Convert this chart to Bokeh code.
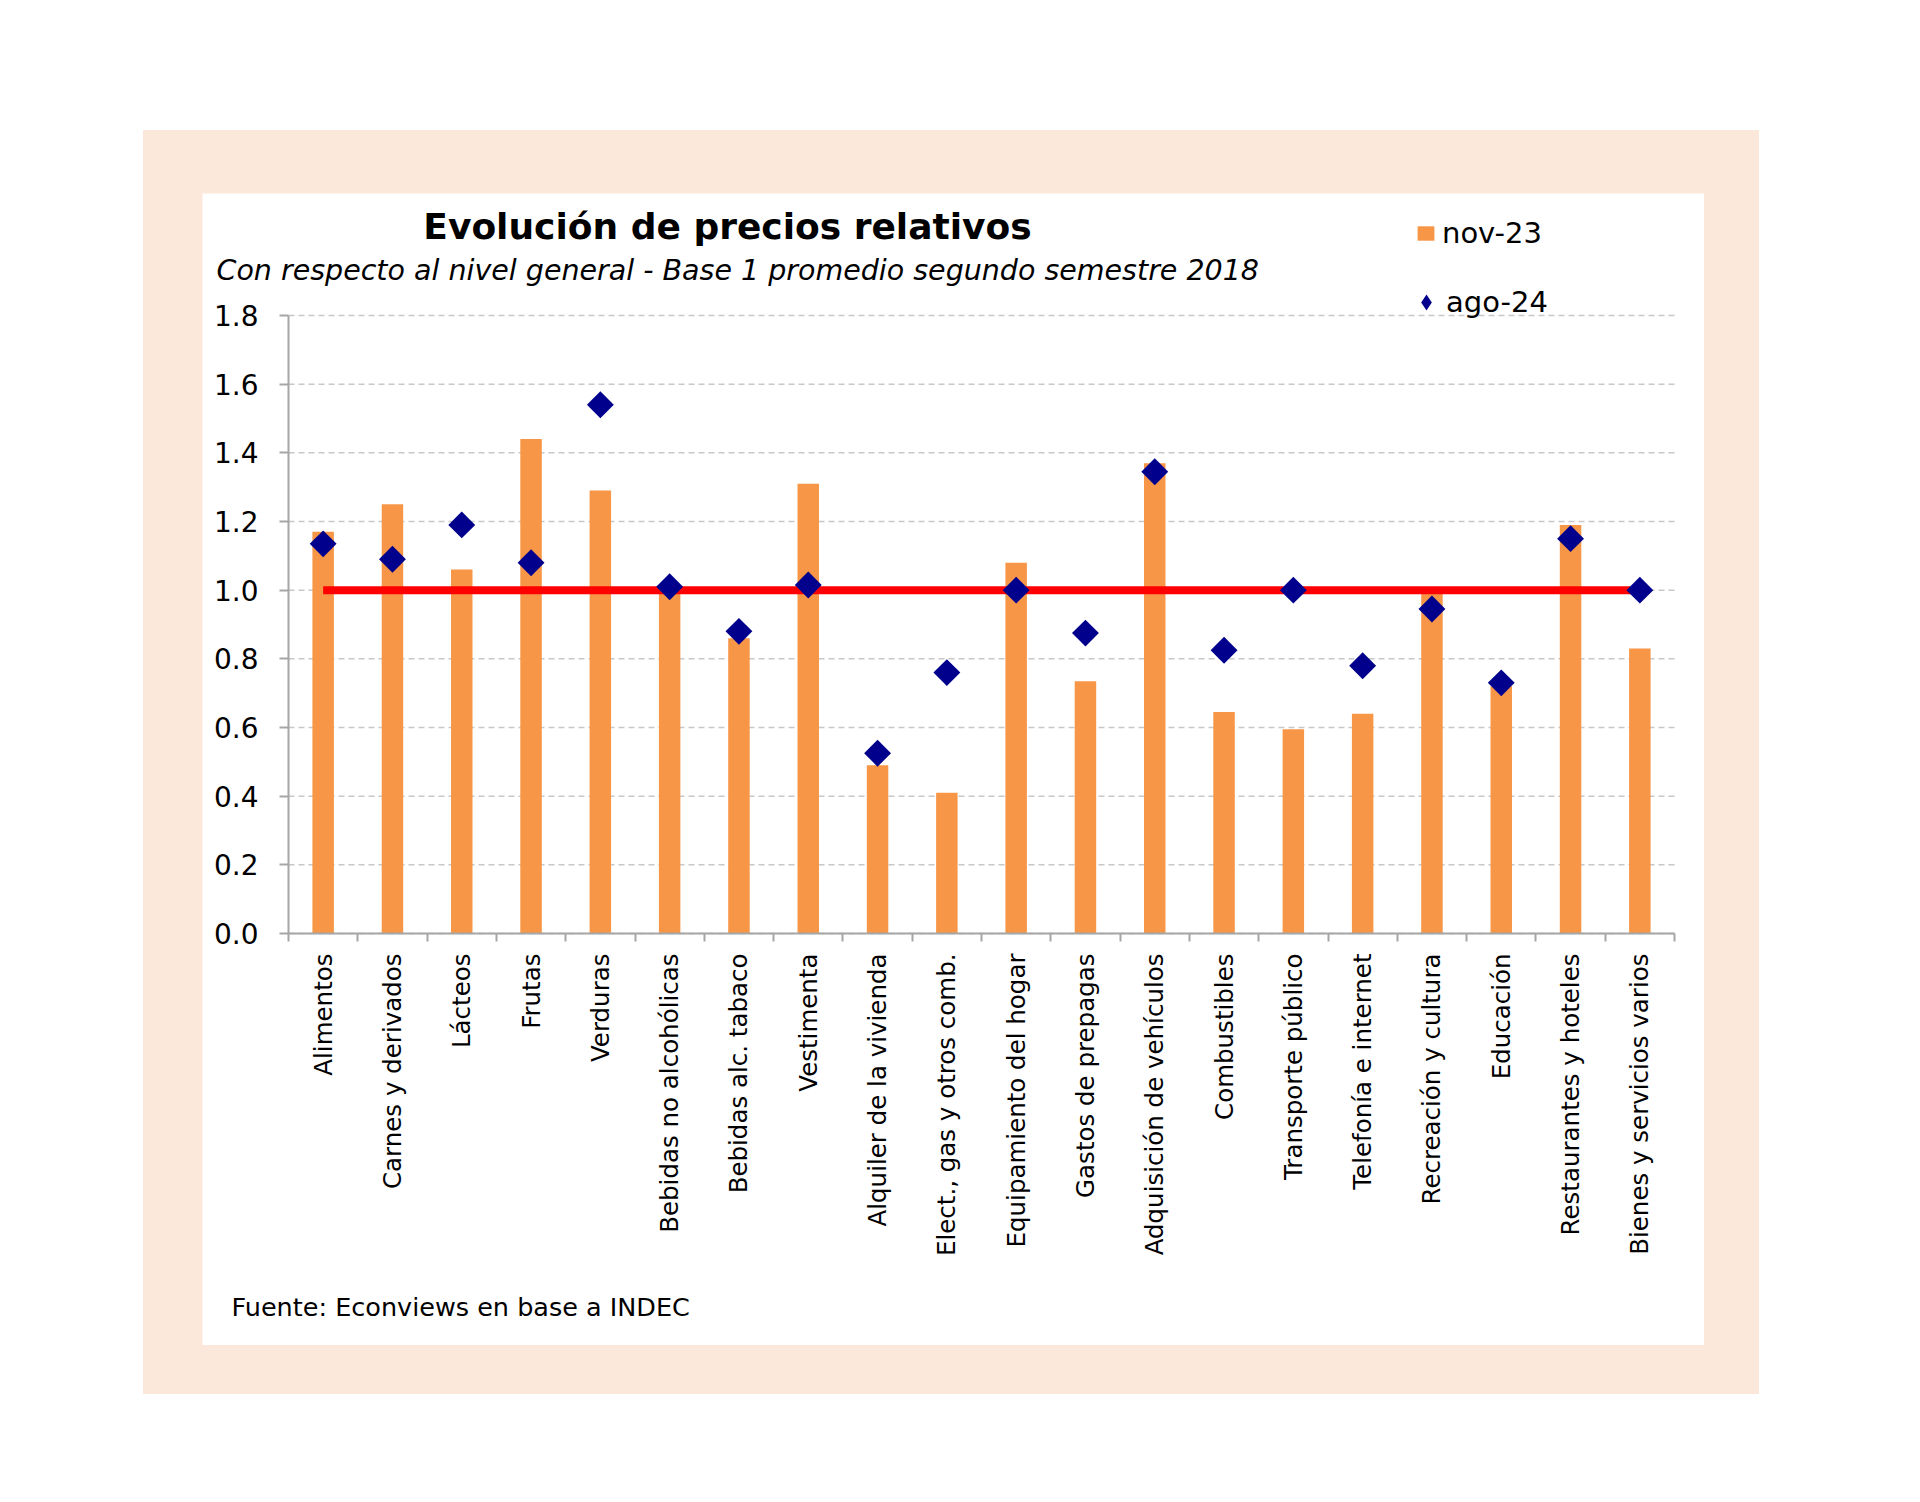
from math import pi

from bokeh.plotting import figure
from bokeh.models import (Range1d, LinearAxis, FixedTicker, NumeralTickFormatter, Label,
                          Legend, LegendItem)
from bokeh.layouts import column
from bokeh.embed import file_html
from bokeh.resources import INLINE

# ---------------- data ----------------
categories = [
    "Alimentos", "Carnes y derivados", "Lácteos", "Frutas", "Verduras",
    "Bebidas no alcohólicas", "Bebidas alc. tabaco", "Vestimenta",
    "Alquiler de la vivienda", "Elect., gas y otros comb.", "Equipamiento del hogar",
    "Gastos de prepagas", "Adquisición de vehículos", "Combustibles",
    "Transporte público", "Telefonía e internet", "Recreación y cultura",
    "Educación", "Restaurantes y hoteles", "Bienes y servicios varios",
]
nov_23 = [1.17, 1.25, 1.06, 1.44, 1.29, 0.99, 0.86, 1.31, 0.49, 0.41,
          1.08, 0.735, 1.37, 0.645, 0.595, 0.64, 1.00, 0.72, 1.19, 0.83]
ago_24 = [1.135, 1.09, 1.19, 1.08, 1.54, 1.01, 0.88, 1.015, 0.525, 0.76,
          1.00, 0.875, 1.345, 0.825, 1.00, 0.78, 0.945, 0.73, 1.15, 1.00]
reference_level = 1.0
y_ticks = [0.0, 0.2, 0.4, 0.6, 0.8, 1.0, 1.2, 1.4, 1.6, 1.8]
series_names = ["nov-23", "ago-24"]
title_text = "Evolución de precios relativos"
subtitle_text = "Con respecto al nivel general - Base 1 promedio segundo semestre 2018"
source_text = "Fuente: Econviews en base a INDEC"

# ---------------- style / layout constants ----------------
FONT = "DejaVu Sans"
ORANGE = "#F79646"
NAVY = "#00008C"
AXIS_GRAY = "#A6A6A6"
GRID_GRAY = "#C8C8C8"
PEACH = "#FCE8DA"

W, H = 1502, 1152            # white panel = plot frame
X0_PX, X1_PX = 86, 1472      # pixel columns of the category axis start / end
Y0_PX, Y1_PX = 740, 122      # pixel rows (from top) of value 0 and of the top tick
n = len(categories)
y_top = y_ticks[-1]
px_x = (X1_PX - X0_PX) / n
px_y = (Y0_PX - Y1_PX) / y_top

x_pos = [i + 0.5 for i in range(n)]      # category centres
bounds = list(range(n + 1))              # category boundaries

p = figure(width=W, height=H,
           x_range=Range1d(-X0_PX / px_x, n + (W - X1_PX) / px_x),
           y_range=Range1d(-(H - Y0_PX) / px_y, y_top + Y1_PX / px_y),
           x_axis_type=None, y_axis_type=None,
           output_backend="svg", toolbar_location=None,
           min_border_left=0, min_border_right=0, min_border_top=0, min_border_bottom=0,
           border_fill_color="white", background_fill_color="white", outline_line_color=None)

# dashed horizontal gridlines, between the axis ends
p.segment(x0=[0] * len(y_ticks), x1=[n] * len(y_ticks), y0=y_ticks, y1=y_ticks,
          line_color=GRID_GRAY, line_dash="6 4", line_width=1.5)

# y axis
ya = LinearAxis(fixed_location=0, bounds=(0, y_top), ticker=FixedTicker(ticks=y_ticks),
                formatter=NumeralTickFormatter(format="0.0"),
                major_label_text_font=FONT, major_label_text_font_size="28px",
                major_label_text_color="black",
                axis_line_color=AXIS_GRAY, axis_line_width=2,
                major_tick_line_color=AXIS_GRAY, major_tick_line_width=2,
                major_tick_out=9, major_tick_in=0, minor_tick_line_color=None,
                major_label_standoff=21)
p.add_layout(ya, "left")

# x axes: boundary ticks + category labels
tick_axis = LinearAxis(fixed_location=0, bounds=(0, n), ticker=FixedTicker(ticks=bounds),
                       axis_line_color=AXIS_GRAY, axis_line_width=2,
                       major_tick_line_color=AXIS_GRAY, major_tick_line_width=2,
                       major_tick_out=8, major_tick_in=0, minor_tick_line_color=None,
                       major_label_text_font_size="1px", major_label_standoff=0,
                       major_label_overrides={b: "" for b in bounds})
p.add_layout(tick_axis, "below")
label_axis = LinearAxis(fixed_location=0, ticker=FixedTicker(ticks=x_pos), axis_line_color=None,
                        major_tick_line_color=None, minor_tick_line_color=None,
                        major_tick_out=0, major_tick_in=0,
                        major_label_orientation=pi / 2,
                        major_label_overrides={x: c for x, c in zip(x_pos, categories)},
                        major_label_text_font=FONT, major_label_text_font_size="24.5px",
                        major_label_text_color="black", major_label_standoff=20)
p.add_layout(label_axis, "below")

# marks
bars = p.vbar(x=x_pos, top=nov_23, width=0.31, fill_color=ORANGE, line_color=None)
p.line(x=[x_pos[0], x_pos[-1]], y=[reference_level, reference_level],
       line_color="#FF0000", line_width=8)
dots = p.scatter(x=x_pos, y=ago_24, marker="square", angle=pi / 4, size=19,
                 fill_color=NAVY, line_color=None)
# legend swatch for the diamonds (a single undrawn NaN point, only used by the legend)
dot_key = p.scatter(x=[float("nan")], y=[float("nan")], marker="diamond",
                    fill_color=NAVY, line_color=None)

# texts (screen units: from the panel's left / bottom edge)
p.add_layout(Label(x=525, y=H - 33, x_units="screen", y_units="screen", text=title_text,
                   text_align="center", text_baseline="middle", text_font=FONT,
                   text_font_style="bold", text_font_size="36px", text_color="black"))
p.add_layout(Label(x=14, y=H - 77, x_units="screen", y_units="screen", text=subtitle_text,
                   text_align="left", text_baseline="middle", text_font=FONT,
                   text_font_style="italic", text_font_size="28.5px", text_color="black"))
p.add_layout(Label(x=29, y=39, x_units="screen", y_units="screen", text=source_text,
                   text_align="left", text_baseline="middle", text_font=FONT,
                   text_font_size="25.5px", text_color="black"))

# legends
common = dict(padding=0, margin=0, spacing=0, border_line_color=None,
              background_fill_alpha=0, label_text_font=FONT, label_text_font_size="29px",
              label_text_color="black")
leg_bar = Legend(items=[LegendItem(label=series_names[0], renderers=[bars])],
                 location=(1213, H - 57), glyph_width=21, glyph_height=18, label_standoff=6,
                 **common)
leg_dot = Legend(items=[LegendItem(label=series_names[1], renderers=[dot_key])],
                 location=(1204, H - 129), glyph_width=40, glyph_height=40, label_standoff=-3,
                 **common)
p.add_layout(leg_bar, "center")
p.add_layout(leg_dot, "center")

layout = column(p, styles={"background-color": PEACH, "padding": "63px 55px 49px 59px"},
                margin=(130, 0, 0, 143))

open("out.html", "w").write(file_html(layout, INLINE))
